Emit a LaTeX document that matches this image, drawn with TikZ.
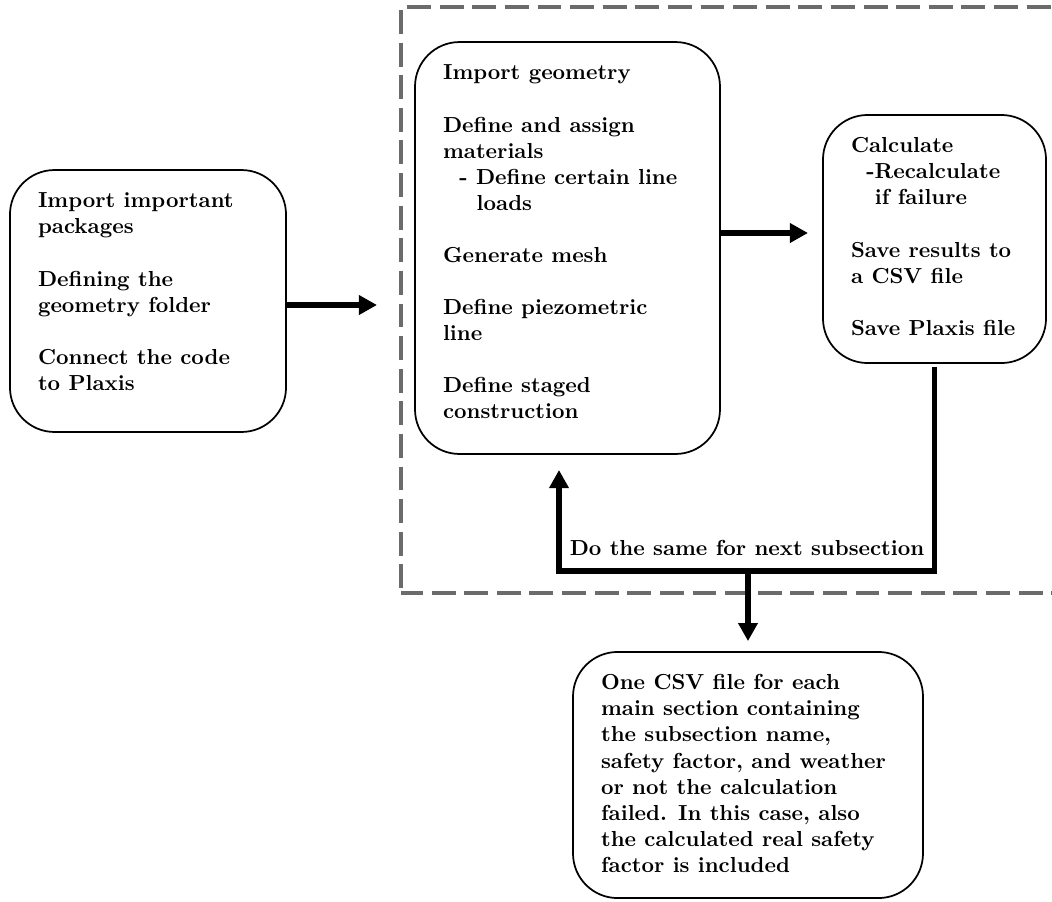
\documentclass[tikz,border=0pt]{standalone}
\usepackage{tikz}
\usetikzlibrary{arrows.meta, calc}

\newcommand{\boxtext}[3]{\begin{minipage}[t][#2][t]{#1}\raggedright\strut #3\end{minipage}}

\begin{document}
\begin{tikzpicture}[x=0.46pt, y=-0.46pt,
    stepbox/.style={draw, line width=0.8pt, rounded corners=20.5pt, inner xsep=12.9pt, inner ysep=9pt, font=\bfseries},
    flow/.style={line width=2.6pt, line join=miter, -{Triangle[length=8.3pt, width=8.6pt]}},
    frame/.style={draw=black!58, line width=1.4pt, dash pattern=on 11pt off 4pt}]
  \useasboundingbox (0,0) rectangle (1052,901);
  \clip (0,0) rectangle (1052,901);

  % dashed frame, open past the right edge
  \draw[frame, dash phase=12.2pt] (401,7) -- (1080,7);
  \draw[frame, dash phase=13.6pt] (401,7) -- (401,593);
  \draw[frame, dash phase=0.9pt] (401,593) -- (1080,593);

  \node[stepbox] (start) at (148,301) {\boxtext{101.2pt}{102.5pt}{Import important\\packages\\[12pt]
    Defining the\\geometry folder\\[12pt]
    Connect the code\\to Plaxis}};
  \node[stepbox] (geom) at (567.5,248) {\boxtext{114.5pt}{171.5pt}{Import geometry\\[12pt]
    Define and assign\\materials\\\hspace*{7.5pt}- Define certain line\\\hspace*{15.5pt}loads\\[12pt]
    Generate mesh\\[12pt]
    Define piezometric\\line\\[12pt]
    Define staged\\construction}};
  \node[stepbox] (calc) at (934.5,239) {\boxtext{76.8pt}{96.1pt}{Calculate\\\hspace*{7pt}-Recalculate\\\hspace*{11pt}if failure\\[12pt]
    Save results to\\a CSV file\\[12pt]
    Save Plaxis file}};
  \node[stepbox] (csv) at (748,775) {\boxtext{135.2pt}{95.2pt}{One CSV file for each\\main section containing\\the subsection name,\\safety factor, and weather\\or not the calculation\\failed. In this case, also\\the calculated real safety\\factor is included}};

  \coordinate (inGeom) at (377,305);
  \coordinate (inCalc) at (808,233);
  \coordinate (loopBase) at (748,571);
  \coordinate (backTip) at (559,470);

  \draw[flow] (start.east |- inGeom) -- (inGeom);
  \draw[flow] (geom.east |- inCalc) -- (inCalc);
  \draw[flow] ([yshift=-1.4pt]calc.south) -- (calc.south |- loopBase) -- (backTip |- loopBase) -- (backTip);
  \draw[flow, shorten >=4.6pt] (loopBase) -- (loopBase |- csv.north);

  \node[font=\bfseries, anchor=base, inner sep=0pt] (loopLabel) at (747,555) {Do the same for next subsection};
\end{tikzpicture}
\end{document}
